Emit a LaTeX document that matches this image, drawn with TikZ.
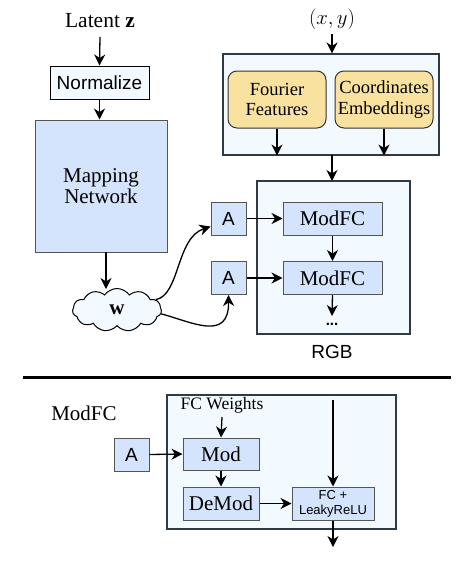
\documentclass[tikz,border=0pt]{standalone}
\usepackage{fontspec}
\setmainfont{Liberation Serif}
\setsansfont{Liberation Sans}
\usetikzlibrary{arrows.meta,shapes.symbols}
\definecolor{bluefill}{HTML}{D4E4FC}
\definecolor{contfill}{HTML}{F3FAFF}
\definecolor{yellowfill}{HTML}{F9E1A0}
\definecolor{boxline}{HTML}{555555}
\definecolor{contline}{HTML}{2E3A44}
\begin{document}
\begin{tikzpicture}[x=1pt,y=-1pt,
  arr/.style={-{Stealth[length=11pt,width=11pt,inset=3.5pt]},line width=1.3pt},
  bluebox/.style={draw=boxline,fill=bluefill,line width=1pt,inner sep=0pt,align=center},
  cont/.style={draw=contline,fill=contfill,line width=1.1pt,inner sep=0pt},
  yelbox/.style={draw=black!80,fill=yellowfill,line width=1pt,rounded corners=9pt,inner sep=0pt,align=center,font=\fontsize{18.5}{20.5}\selectfont},
  serif/.style={font=\fontsize{21}{22}\selectfont},
  sans/.style={font=\sffamily\fontsize{19}{21}\selectfont}]
\useasboundingbox (0,0) rectangle (456,562);
% containers
\node[cont,minimum width=216pt,minimum height=101pt] (feat) at (331,104.5) {};
\node[cont,minimum width=153pt,minimum height=153pt] (rgbbox) at (333.5,257.5) {};
\node[cont,minimum width=229pt,minimum height=134pt] (modbox) at (281.5,462) {};
% top left
\node[font=\fontsize{21.5}{23}\selectfont] (latent) at (100,21) {Latent $\mathbf{z}$};
\node[sans,draw=black,fill=contfill,line width=1pt,inner sep=0pt,minimum width=99pt,minimum height=33pt] (norm) at (99.5,82.5) {Normalize};
\node[bluebox,serif,minimum width=132pt,minimum height=132pt] (map) at (101,186) {Mapping\\[-1pt]Network};
\node[cloud,cloud puffs=11,cloud puff arc=110,aspect=2.2,draw=black,fill=contfill,line width=1pt,minimum width=89pt,minimum height=43pt,inner sep=0pt,font=\fontsize{21}{22}\selectfont] (w) at (117,310) {$\mathbf{w}$};
\coordinate (zin) at (100,37);
\draw[arr] (zin) -- (norm.north);
\draw[arr] (norm.south) -- (norm.south |- map.north);
\draw[arr] (106,252) -- (106,289);
% top right
\node[font=\fontsize{21.5}{23}\selectfont] (xy) at (332,19) {$(x,y)$};
\coordinate (xyin) at (332,34);
\draw[arr] (xyin) -- (xyin |- feat.north);
\node[yelbox,minimum width=98pt,minimum height=57pt] (ff) at (277,99.5) {Fourier\\Features};
\node[yelbox,minimum width=98pt,minimum height=57pt] (ce) at (384,99.5) {Coordinates\\Embeddings};
\draw[arr] (ff.south) -- (ff.south |- feat.south);
\draw[arr] (ce.south) -- (ce.south |- feat.south);
\draw[arr] (332,155) -- (332,181);
% A and ModFC
\node[bluebox,sans,minimum width=35pt,minimum height=33pt] (A1) at (228.5,218.5) {A};
\node[bluebox,sans,minimum width=35pt,minimum height=33pt] (A2) at (228.5,278) {A};
\node[bluebox,serif,minimum width=99pt,minimum height=33pt] (M1) at (332.5,218.5) {ModFC};
\node[bluebox,serif,minimum width=99pt,minimum height=33pt] (M2) at (332.5,278) {ModFC};
\draw[arr] (A1.east) -- (M1.west);
\draw[arr] (A2.east) -- (M2.west);
\draw[arr] (M1.south) -- (M2.north);
\coordinate (dotsin) at (332,316);
\draw[arr] (M2.south) -- (dotsin);
\node[font=\sffamily\bfseries\fontsize{15}{16}\selectfont] (dots) at (332,324) {...};
\node[sans] (rgb) at (332,352) {RGB};
\draw[arr] (w.15) .. controls (180,295) and (176,238) .. ([yshift=-8pt]A1.west);
\draw[arr] (w.-5) .. controls (192,322) and (229,342) .. (A2.south);
% rule
\draw[line width=3pt] (23,377) -- (451,377);
% bottom
\node[serif] (modlabel) at (84,413) {ModFC};
\node[font=\fontsize{17.5}{19}\selectfont] (fcw) at (222,405) {FC Weights};
\node[bluebox,serif,minimum width=76pt,minimum height=32pt] (mod) at (221,454) {Mod};
\node[bluebox,sans,minimum width=35pt,minimum height=33pt] (A3) at (131.5,454.5) {A};
\node[bluebox,serif,minimum width=76pt,minimum height=33pt] (demod) at (221,503.5) {DeMod};
\node[bluebox,font=\sffamily\fontsize{13}{15}\selectfont,minimum width=82pt,minimum height=33pt] (fc) at (333,503.5) {FC +\\LeakyReLU};
\coordinate (fcwout) at (222,417);
\draw[arr] (fcwout) -- (mod.north);
\draw[arr] (A3.east) -- (mod.west);
\draw[arr] (mod.south) -- (demod.north);
\draw[arr] (demod.east) -- (fc.west);
\coordinate (fcin) at (333,400);
\draw[arr] (fcin) -- (fc.north);
\coordinate (fcout) at (333,547);
\draw[arr] (fc.south) -- (fcout);
\end{tikzpicture}
\end{document}
